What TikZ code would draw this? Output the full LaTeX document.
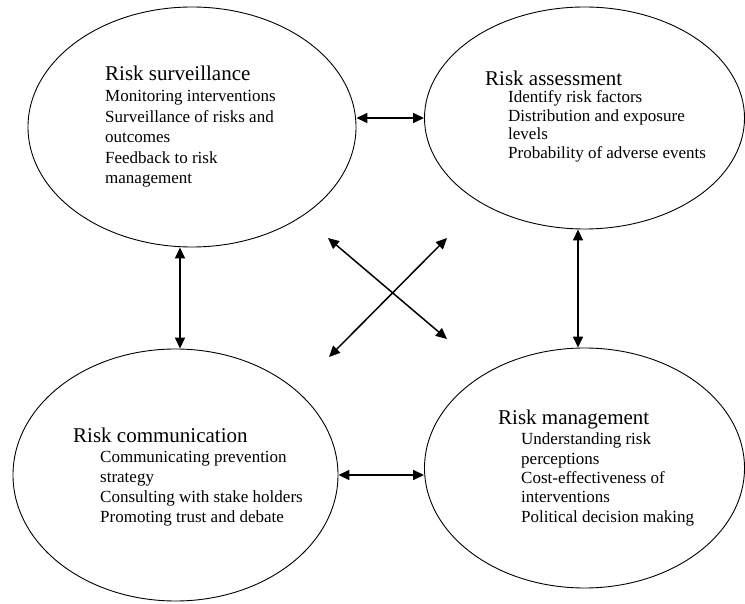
\documentclass[tikz,border=0pt]{standalone}
\usepackage{fontspec}
\setmainfont{Liberation Serif}
\usetikzlibrary{arrows.meta,shapes.geometric}
\tikzset{
  bubble/.style={draw, ellipse, line width=0.9pt, inner sep=0pt},
  ttl/.style={anchor=base west, inner sep=0pt, font=\fontsize{21}{24}\selectfont},
  items/.style={anchor=base west, inner sep=0pt},
  link/.style={line width=1.5pt, {Triangle[length=11pt,width=10pt]}-{Triangle[length=11pt,width=10pt]}}
}
\newcommand{\itemblock}[2]{\fontsize{17}{#1}\selectfont\begin{tabular}[t]{@{}l@{}}#2\end{tabular}}
\begin{document}
\begin{tikzpicture}[x=1pt,y=1pt]
\useasboundingbox (0,0) rectangle (745,603);
% ellipses
\node[bubble, minimum width=328pt, minimum height=240pt] (ts) at (192,476) {};
\node[bubble, minimum width=320pt, minimum height=222pt] (tr) at (584.5,485) {};
\node[bubble, minimum width=325pt, minimum height=252pt] (bl) at (175.5,128) {};
\node[bubble, minimum width=320pt, minimum height=240pt] (br) at (584.5,135) {};
% texts
\node[ttl] (tsT) at (105,522) {Risk surveillance};
\node[items] (tsI) at (105,501) {\itemblock{20.5}{Monitoring interventions\\Surveillance of risks and\\outcomes\\Feedback to risk\\management}};
\node[ttl] (trT) at (485,517) {Risk assessment};
\node[items] (trI) at (508,500) {\itemblock{18.5}{Identify risk factors\\Distribution and exposure\\levels\\Probability of adverse events}};
\node[ttl] (blT) at (73,160) {Risk communication};
\node[items] (blI) at (100,140) {\itemblock{19.7}{Communicating prevention\\strategy\\Consulting with stake holders\\Promoting trust and debate}};
\node[ttl] (brT) at (498,178) {Risk management};
\node[items] (brI) at (521,158) {\itemblock{19.3}{Understanding risk\\perceptions\\Cost-effectiveness of\\interventions\\Political decision making}};
% connectors
\draw[link] (tr.west -| ts.east) -- (tr.west);
\draw[link] (bl.east) -- (bl.east -| br.west);
\draw[link] ([xshift=4.5pt]bl.north |- ts.south) -- ([xshift=4.5pt]bl.north);
\draw[link] ([xshift=-6.5pt]tr.south) -- ([xshift=-6.5pt]br.north);
\coordinate (d1) at (328,365);
\coordinate (d2) at (447,264);
\coordinate (d3) at (329,246);
\coordinate (d4) at (447,365);
\draw[link] (d1) -- (d2);
\draw[link] (d3) -- (d4);
\end{tikzpicture}
\end{document}
